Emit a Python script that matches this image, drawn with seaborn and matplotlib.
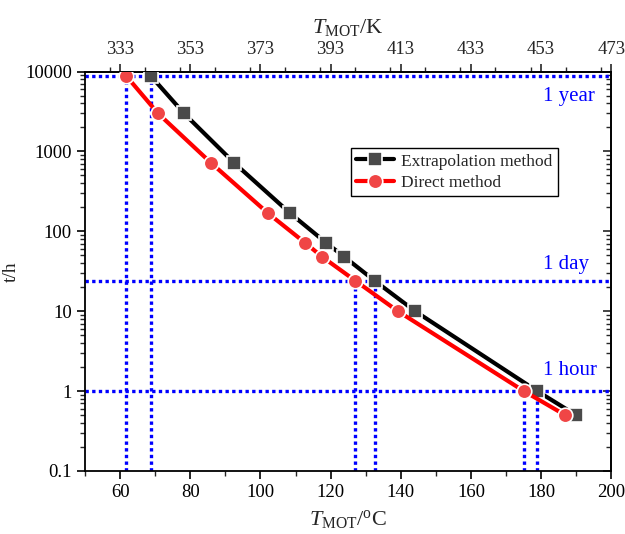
import matplotlib
matplotlib.use("Agg")
import matplotlib.pyplot as plt
import seaborn as sns
import pandas as pd
from matplotlib.ticker import LogLocator, NullFormatter, MultipleLocator

# ---- data ----
ext_T = [68.8, 78.2, 92.5, 108.5, 118.7, 123.9, 132.6, 144.1, 178.9, 190.0]
ext_t = [8760, 3000, 720, 168, 72, 48, 24, 10, 1, 0.5]
dir_T = [61.8, 70.8, 85.9, 102.2, 112.7, 117.6, 127.1, 139.2, 175.1, 186.9]
dir_t = [8760, 3000, 720, 168, 72, 48, 24, 10, 1, 0.5]

ref_t = [8760, 24, 1]
ref_labels = ["1 year", "1 day", "1 hour"]
ref_label_y = [4850, 38, 1.8]
vline_T = [61.8, 68.8, 127.1, 132.6, 175.1, 178.9]
vline_t = [8760, 8760, 24, 24, 1, 1]

xticks_c = [60, 80, 100, 120, 140, 160, 180, 200]
xticks_k = [333, 353, 373, 393, 413, 433, 453, 473]
yticks = [0.1, 1, 10, 100, 1000, 10000]
ytick_labels = ["0.1", "1", "10", "100", "1000", "10000"]

sns.set_theme(style="white")
plt.rcParams["font.family"] = ["Liberation Serif", "DejaVu Serif"]
plt.rcParams["mathtext.fontset"] = "custom"
plt.rcParams["mathtext.rm"] = "Liberation Serif"
plt.rcParams["mathtext.it"] = "Liberation Serif:italic"

fig = plt.figure(figsize=(6.25, 5.34), dpi=100)
ax = fig.add_axes([0.136, 0.118, 0.842, 0.748])

blue = "#0000ff"
ymin, ymax = 0.1, 10000
xmin, xmax = 50, 200

# reference lines
for t in ref_t:
    ax.axhline(t, color=blue, lw=2.4, ls=(0, (1, 1)), zorder=1)
for T, t in zip(vline_T, vline_t):
    ax.plot([T, T], [ymin, t], color=blue, lw=2.4, ls=(0, (1, 1)), zorder=1)

df_ext = pd.DataFrame({"T": ext_T, "t": ext_t})
df_dir = pd.DataFrame({"T": dir_T, "t": dir_t})

sns.lineplot(data=df_ext, x="T", y="t", ax=ax, sort=False, color="black", lw=3,
             marker="s", markersize=9.5, markerfacecolor="#4a4a4a",
             markeredgecolor="white", markeredgewidth=1.2,
             label="Extrapolation method", zorder=3)
sns.lineplot(data=df_dir, x="T", y="t", ax=ax, sort=False, color="#ff0000", lw=3,
             marker="o", markersize=10.5, markerfacecolor="#f04545",
             markeredgecolor="white", markeredgewidth=1.2,
             label="Direct method", zorder=3)

ax.set_yscale("log")
ax.set_xlim(xmin, xmax)
ax.set_ylim(ymin, ymax)

for lab, y in zip(ref_labels, ref_label_y):
    ax.text(180.6, y, lab, color=blue, fontsize=15, va="center", ha="left")

# ticks
ax.set_xticks(xticks_c)
ax.xaxis.set_minor_locator(MultipleLocator(10))
ax.set_yticks(yticks)
ax.set_yticklabels(ytick_labels)
ax.yaxis.set_minor_locator(LogLocator(base=10, subs=range(2, 10), numticks=20))
ax.yaxis.set_minor_formatter(NullFormatter())
ax.tick_params(axis="both", which="major", direction="out", length=6, width=1.2,
               labelsize=13.5, colors="black", bottom=True, left=True)
ax.tick_params(axis="both", which="minor", direction="out", length=3.5, width=1,
               bottom=True, left=True)

for sp in ax.spines.values():
    sp.set_visible(True)
    sp.set_color("black")
    sp.set_linewidth(1.3)

# right axis with inward ticks, no labels
right = ax.secondary_yaxis("right")
right.set_yticks(yticks)
right.yaxis.set_minor_locator(LogLocator(base=10, subs=range(2, 10), numticks=20))
right.yaxis.set_minor_formatter(NullFormatter())
right.tick_params(axis="y", which="major", direction="in", length=6, width=1.2, labelright=False)
right.tick_params(axis="y", which="minor", direction="in", length=3.5, width=1, labelright=False)
right.spines["right"].set_linewidth(1.3)

# top axis in K
top = ax.secondary_xaxis("top", functions=(lambda c: c + 273, lambda k: k - 273))
top.set_xticks(xticks_k)
top.xaxis.set_minor_locator(MultipleLocator(10))
top.tick_params(axis="x", which="major", direction="out", length=6, width=1.2, labelsize=13.5)
top.tick_params(axis="x", which="minor", direction="out", length=3.5, width=1)
top.spines["top"].set_linewidth(1.3)
top.set_xlabel(r"$T_{\rm MOT}$/K", fontsize=16, labelpad=6)

ax.set_xlabel(r"$T_{\rm MOT}$/$^{\rm o}$C", fontsize=16, labelpad=5)
ax.set_ylabel("t/h", fontsize=14)
ax.yaxis.set_label_coords(-0.123, 0.5)

leg = ax.legend(loc="upper left", bbox_to_anchor=(0.489, 0.83), fontsize=12.5,
                frameon=True, fancybox=False, edgecolor="black", framealpha=1,
                handlelength=2.2, borderpad=0.3, labelspacing=0.3, handletextpad=0.4)
leg.get_frame().set_linewidth(1.0)

fig.savefig("out.png", dpi=100)
